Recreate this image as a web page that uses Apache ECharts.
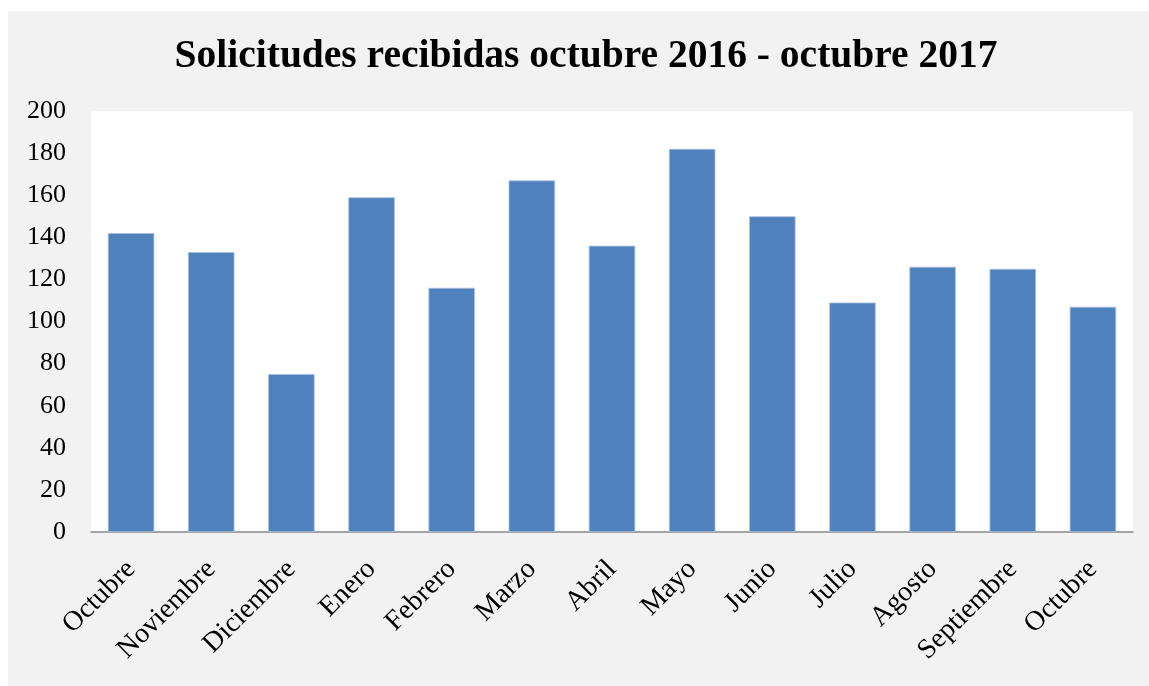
<!DOCTYPE html>
<html>
<head>
<meta charset="utf-8">
<script src="https://cdn.jsdelivr.net/npm/echarts@6/dist/echarts.min.js"></script>
<style>
html,body{margin:0;padding:0;background:#fff;}
#c{position:absolute;left:8px;top:11px;width:1141px;height:675px;background:#f2f2f2;}
</style>
</head>
<body>
<div id="c"></div>
<script>
var categories = ['Octubre','Noviembre','Diciembre','Enero','Febrero','Marzo','Abril','Mayo','Junio','Julio','Agosto','Septiembre','Octubre'];
var values = [142,133,75,159,116,167,136,182,150,109,126,125,107];
var titleText = 'Solicitudes recibidas octubre 2016 - octubre 2017';
var yMin = 0, yMax = 200, yStep = 20;

var FONT = '"Liberation Serif", "DejaVu Serif", serif';
var chart = echarts.init(document.getElementById('c'), null, {renderer:'canvas'});
chart.setOption({
  backgroundColor: '#f2f2f2',
  animation: false,
  title: {
    text: titleText,
    left: 578,
    top: 26,
    padding: 0,
    textAlign: 'center',
    textVerticalAlign: 'top',
    textStyle: {fontFamily: FONT, fontWeight: 'bold', fontSize: 39.5, color: '#000'}
  },
  grid: {left: 83, top: 100, right: 16, bottom: 154, show: true, backgroundColor: '#fff', borderWidth: 0},
  xAxis: {
    type: 'category',
    data: categories,
    axisLine: {show: true, lineStyle: {color: '#898989', width: 1.5}},
    axisTick: {show: false},
    axisLabel: {rotate: 45, interval: 0, margin: 33, fontFamily: FONT, fontSize: 28, color: '#000'}
  },
  yAxis: {
    type: 'value',
    min: yMin, max: yMax, interval: yStep,
    axisLine: {show: false},
    axisTick: {show: false},
    splitLine: {show: false},
    axisLabel: {margin: 25, fontFamily: FONT, fontSize: 26, color: '#000'}
  },
  series: [{
    type: 'bar',
    data: values,
    barCategoryGap: '42%',
    itemStyle: {color: '#4f81bd', borderColor: '#a9c1e0', borderWidth: 0.8}
  }]
});
</script>
</body>
</html>
